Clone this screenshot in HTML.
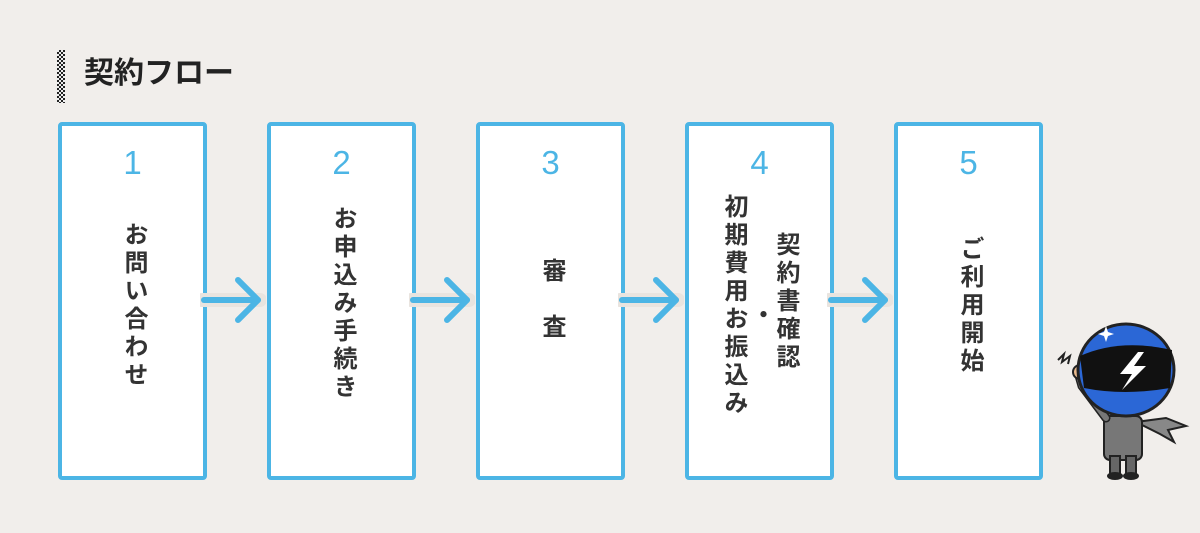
<!DOCTYPE html>
<html><head><meta charset="utf-8"><style>
body{margin:0;width:1200px;height:533px;background:#f1eeeb;position:relative;overflow:hidden;font-family:"Liberation Sans","Noto Sans CJK JP",sans-serif;}
.ttl{position:absolute;left:84px;top:56px;font-size:30px;font-weight:bold;color:#222;line-height:36px;}
.bar{position:absolute;left:57px;top:50px;width:8px;height:53px;background:repeating-conic-gradient(#222 0 25%,#eee 0 50%) 0 0/4px 4px;}
.box{position:absolute;top:122px;width:141px;height:350px;border:4px solid #4cb5e5;border-radius:4px;background:#fff;}
.num{position:absolute;top:17px;left:0;right:0;text-align:center;font-size:33px;color:#4cb5e5;line-height:40px;}
.col{position:absolute;writing-mode:vertical-rl;font-size:24px;font-weight:bold;color:#333;letter-spacing:4px;line-height:28px;width:28px;}
svg.ar{position:absolute;top:272px;}
</style></head><body>
<div class="bar"></div>
<div class="ttl">契約フロー</div>

<div class="box" style="left:58px"><div class="num">1</div><div class="col" style="left:57px;top:96px">お問い合わせ</div></div>
<div class="box" style="left:267px"><div class="num">2</div><div class="col" style="left:57px;top:80px">お申込み手続き</div></div>
<div class="box" style="left:476px"><div class="num">3</div><div class="col" style="left:57px;top:132px;letter-spacing:32px">審査</div></div>
<div class="box" style="left:685px"><div class="num">4</div>
<div class="col" style="left:82px;top:106px">契約書確認</div>
<div class="col" style="left:57px;top:176px">・</div>
<div class="col" style="left:30px;top:68px">初期費用お振込み</div></div>
<div class="box" style="left:894px"><div class="num">5</div><div class="col" style="left:57px;top:110px">ご利用開始</div></div>

<svg class="ar" style="left:200px" width="66" height="56"><line x1="2" y1="28" x2="60" y2="28" stroke="#e9e4df" stroke-width="14" stroke-linecap="round"/><line x1="4" y1="28" x2="58" y2="28" stroke="#4cb5e5" stroke-width="6" stroke-linecap="round"/><polyline points="38,8 58,28 38,48" fill="none" stroke="#4cb5e5" stroke-width="6" stroke-linecap="round" stroke-linejoin="round"/></svg>
<svg class="ar" style="left:409px" width="66" height="56"><line x1="2" y1="28" x2="60" y2="28" stroke="#e9e4df" stroke-width="14" stroke-linecap="round"/><line x1="4" y1="28" x2="58" y2="28" stroke="#4cb5e5" stroke-width="6" stroke-linecap="round"/><polyline points="38,8 58,28 38,48" fill="none" stroke="#4cb5e5" stroke-width="6" stroke-linecap="round" stroke-linejoin="round"/></svg>
<svg class="ar" style="left:618px" width="66" height="56"><line x1="2" y1="28" x2="60" y2="28" stroke="#e9e4df" stroke-width="14" stroke-linecap="round"/><line x1="4" y1="28" x2="58" y2="28" stroke="#4cb5e5" stroke-width="6" stroke-linecap="round"/><polyline points="38,8 58,28 38,48" fill="none" stroke="#4cb5e5" stroke-width="6" stroke-linecap="round" stroke-linejoin="round"/></svg>
<svg class="ar" style="left:827px" width="66" height="56"><line x1="2" y1="28" x2="60" y2="28" stroke="#e9e4df" stroke-width="14" stroke-linecap="round"/><line x1="4" y1="28" x2="58" y2="28" stroke="#4cb5e5" stroke-width="6" stroke-linecap="round"/><polyline points="38,8 58,28 38,48" fill="none" stroke="#4cb5e5" stroke-width="6" stroke-linecap="round" stroke-linejoin="round"/></svg>

<svg style="position:absolute;left:1040px;top:300px" width="160" height="190" viewBox="0 0 160 190">
<path d="M18 60 l6 -6 l-2 8 l8 -6 l-2 8" fill="none" stroke="#222" stroke-width="2"/>
<path d="M96 122 l30 -4 l20 8 l-18 4 l6 12 l-14 -8 z" fill="#888" stroke="#222" stroke-width="2"/>
<rect x="64" y="116" width="38" height="44" rx="6" fill="#777" stroke="#222" stroke-width="2"/>
<rect x="70" y="156" width="10" height="18" fill="#666" stroke="#222" stroke-width="2"/>
<rect x="86" y="156" width="10" height="18" fill="#666" stroke="#222" stroke-width="2"/>
<ellipse cx="75" cy="176" rx="8" ry="4" fill="#222"/><ellipse cx="91" cy="176" rx="8" ry="4" fill="#222"/>
<path d="M66 118 L42 86 L38 72" fill="none" stroke="#222" stroke-width="9" stroke-linecap="round"/>
<path d="M66 118 L42 86 L38 72" fill="none" stroke="#777" stroke-width="6" stroke-linecap="round"/>
<circle cx="40" cy="72" r="7" fill="#e9b98d" stroke="#222" stroke-width="2"/>
<ellipse cx="86" cy="70" rx="48" ry="46" fill="#2b67d6" stroke="#222" stroke-width="3"/>
<path d="M40 56 Q80 38 132 50 L130 88 Q84 96 44 88 Z" fill="#111"/>
<polygon points="98,52 80,74 92,74 82,90 106,66 94,66 104,52" fill="#fff"/>
<polygon points="66,26 68,32 74,34 68,36 66,42 64,36 58,34 64,32" fill="#fff"/>
</svg>
</body></html>
